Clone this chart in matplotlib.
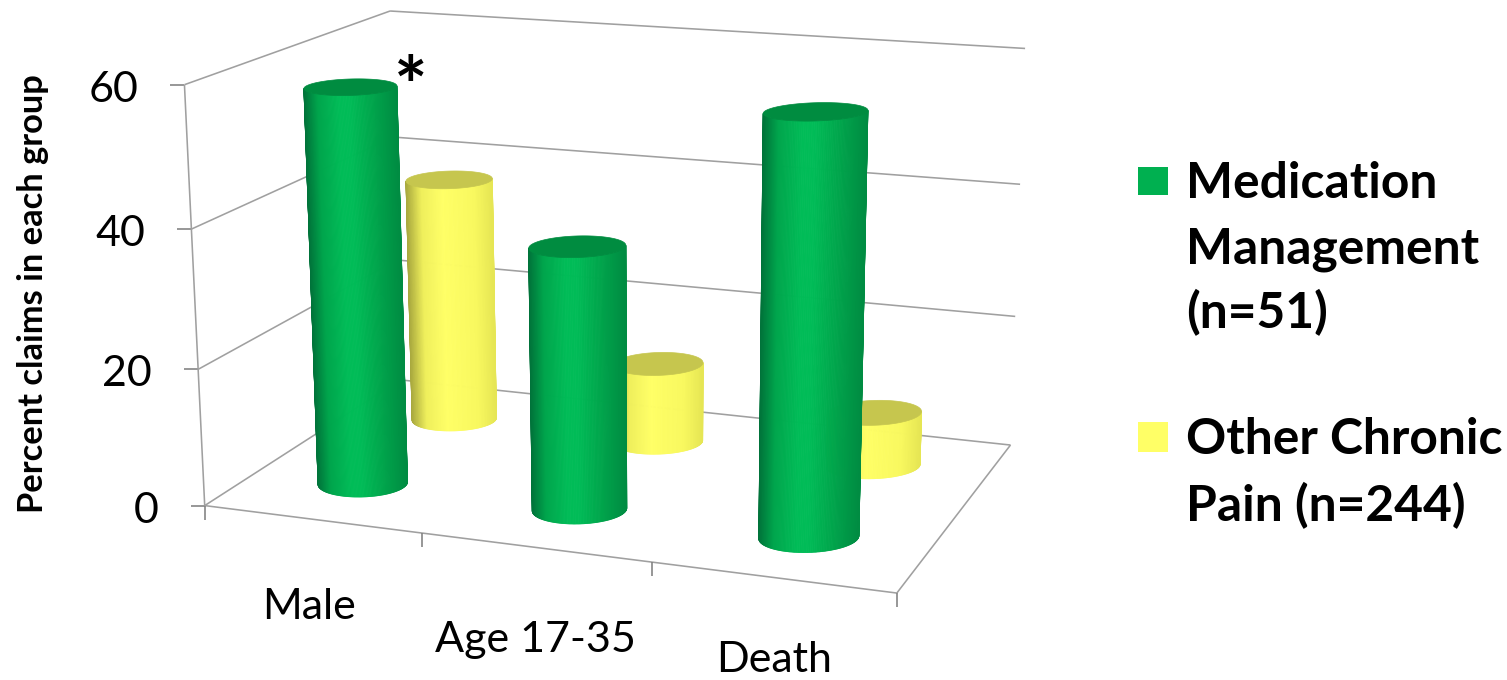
import numpy as np
import matplotlib

matplotlib.use("Agg", force=True)
import matplotlib.pyplot as plt
from matplotlib.collections import PolyCollection
from matplotlib.colors import LinearSegmentedColormap
from matplotlib.patches import Polygon, Rectangle

categories = ["Male", "Age 17-35", "Death"]
medication = [57.8, 37.9, 58.8]
other_pain = [37.8, 12.2, 8.1]
y_ticks = [0, 20, 40, 60]

W, H = 1507, 680
GREY = "#a0a0a0"
TICK_GREY = "#808080"
FONT = "Lato"

# frame calibration: (category pos, depth, value) -> pixel position
FRAME = [
    (0, 0, 0, 204, 506), (0, 0, 20, 197, 368), (0, 0, 40, 192, 229), (0, 0, 60, 186, 85),
    (0, 1, 0, 402, 380), (0, 1, 60, 388, 11),
    (3, 1, 0, 1010, 445), (3, 1, 20, 1015, 316), (3, 1, 40, 1020, 184), (3, 1, 60, 1026, 49),
    (1, 0, 0, 422, 534), (2, 0, 0, 652, 562), (3, 0, 0, 897, 593),
]


def _fit_camera(rows):
    """3D -> 2D projective matrix, least squares (DLT with p34 = 1)."""
    A, b = [], []
    for u, v, w, px, py in rows:
        A.append([u, v, w, 1, 0, 0, 0, 0, -px * u, -px * v, -px * w])
        A.append([0, 0, 0, 0, u, v, w, 1, -py * u, -py * v, -py * w])
        b += [px, py]
    sol = np.linalg.lstsq(np.array(A, float), np.array(b, float), rcond=None)[0]
    return np.append(sol, 1.0).reshape(3, 4)


CAM = _fit_camera(FRAME)


def proj(u, v, w):
    x, y, s = CAM @ np.array([u, v, w, 1.0])
    return np.array([x / s, y / s])


def ring(u, v, w, t, a=0.212, b=0.098, tilt=-0.03):
    c = proj(u, v, w)
    du = proj(u + 0.5, v, w) - proj(u - 0.5, v, w)
    dv = proj(u, v + 0.5, w) - proj(u, v - 0.5, w)
    dx = a * du[0] * np.cos(t)
    return np.column_stack([c[0] + dx, c[1] + b * dv[1] * np.sin(t) + tilt * dx])


def draw_cylinder(ax, u, v, value, cmap, cap_color, zorder):
    t = np.linspace(np.pi, 2 * np.pi, 121)
    top = ring(u, v, value, t)
    bot = ring(u, v, 0, t)
    quads = [[top[i], top[i + 1], bot[i + 1], bot[i]] for i in range(len(t) - 1)]
    shade = (1 + np.cos(t[:-1] + np.diff(t) / 2 + np.pi)) / 2
    colors = cmap(shade)
    ax.add_collection(PolyCollection(quads, facecolors=colors, edgecolors=colors,
                                     linewidths=0.6, antialiased=True, zorder=zorder))
    cap = ring(u, v, value, np.linspace(0, 2 * np.pi, 121))
    ax.add_patch(Polygon(cap, closed=True, fc=cap_color, ec=cap_color, lw=0.5, zorder=zorder + 0.1))


def grey_line(ax, p, q, color=GREY, lw=1.15):
    ax.plot([p[0], q[0]], [p[1], q[1]], color=color, lw=lw, solid_capstyle="butt", zorder=1)


green_map = LinearSegmentedColormap.from_list(
    "green_side", [(0, "#008c42"), (0.3, "#00a94d"), (0.5, "#00bc57"), (0.62, "#00bc57"),
                   (0.85, "#00a54c"), (1, "#00733a")])
yellow_map = LinearSegmentedColormap.from_list(
    "yellow_side", [(0, "#e6e654"), (0.2, "#f8f85f"), (0.58, "#ffff66"), (0.82, "#efef5c"), (1, "#a8a83e")])

fig = plt.figure(figsize=(W / 100, H / 100), dpi=100)
ax = fig.add_axes([0, 0, 1, 1])
ax.set_xlim(0, W)
ax.set_ylim(H, 0)
ax.axis("off")

# walls and floor
for val in y_ticks:
    grey_line(ax, proj(0, 0, val), proj(0, 1, val))
    grey_line(ax, proj(0, 1, val), proj(3, 1, val))
    p = proj(0, 0, val)
    grey_line(ax, p, p - np.array([14, 0]), TICK_GREY)
    ax.text(p[0] - 46, p[1] + 5, str(val), ha="right", va="center", fontsize=31,
            family=FONT, color="black")
grey_line(ax, proj(0, 0, 0), proj(0, 0, 60))
grey_line(ax, proj(0, 0, 0), proj(3, 0, 0))
grey_line(ax, proj(3, 0, 0), proj(3, 1, 0))
for i in range(len(categories) + 1):
    p = proj(i, 0, 0)
    grey_line(ax, p, p + np.array([0, 14]), TICK_GREY)

# cylinders, rear series first
for i, val in enumerate(other_pain):
    draw_cylinder(ax, i + 0.5, 0.75, val, yellow_map, "#c6c64e", 2)
for i, val in enumerate(medication):
    draw_cylinder(ax, i + 0.5, 0.25, val, green_map, "#008c40", 3)

label_pos = [(309, 607), (535, 640), (774, 660)]
for name, (x, y) in zip(categories, label_pos):
    ax.text(x, y, name, ha="center", va="center", fontsize=31, family=FONT, color="black")

ax.text(33, 294, "Percent claims in each group", rotation=90, ha="center", va="center",
        fontsize=24.8, fontweight="bold", family=FONT, color="black")
ax.text(411, 92, "*", ha="center", va="center", fontsize=57, fontweight="bold", family=FONT,
        color="black", zorder=5)

# legend
ax.add_patch(Rectangle((1138, 167), 30, 28, fc="#00b050", ec="none"))
ax.add_patch(Rectangle((1138, 422), 30, 30, fc="#ffff66", ec="none"))
legend_lines = [("Medication", 198), ("Management", 264), ("(n=51)", 328),
                ("Other Chronic", 454), ("Pain (n=244)", 521)]
for text, base in legend_lines:
    ax.text(1186, base, text, ha="left", va="baseline", fontsize=35.8, fontweight="bold",
            family=FONT, color="black")

fig.savefig("out.png", dpi=100)
plt.close(fig)
